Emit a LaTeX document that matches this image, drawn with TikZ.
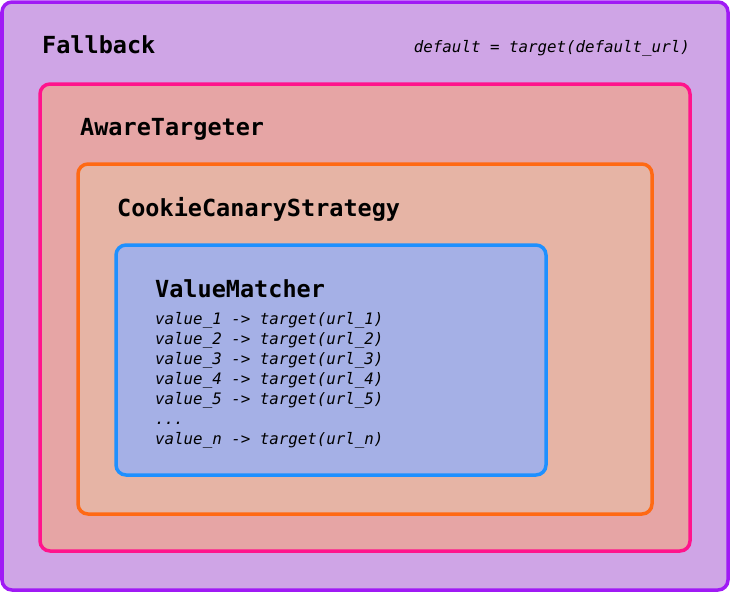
\documentclass[tikz,border=0pt]{standalone}
\usepackage{fontspec}
\setmonofont{DejaVu Sans Mono}
\definecolor{outerfill}{RGB}{207,165,230}
\definecolor{outerdraw}{RGB}{160,26,245}
\definecolor{pinkfill}{RGB}{230,165,165}
\definecolor{pinkdraw}{RGB}{255,20,140}
\definecolor{orangefill}{RGB}{230,180,165}
\definecolor{orangedraw}{RGB}{255,105,20}
\definecolor{bluefill}{RGB}{165,176,230}
\definecolor{bluedraw}{RGB}{30,144,255}
\tikzset{
  box/.style={line width=3.5pt, rounded corners=10pt},
  heading/.style={anchor=base west, inner sep=0pt, font=\fontsize{23.5}{26}\selectfont\ttfamily\bfseries},
  code/.style={anchor=base west, inner sep=0pt, font=\fontsize{15.8}{20}\selectfont\ttfamily\itshape},
}
\begin{document}
\begin{tikzpicture}[x=1pt,y=-1pt]
\useasboundingbox (0,0) rectangle (730,592);
\draw[box, draw=outerdraw, fill=outerfill] (2,2) rectangle (728,590);
\node[heading] (fallback) at (42,53) {Fallback};
\node[code, anchor=base east] (default) at (690,52) {default = target(default\_url)};
\draw[box, draw=pinkdraw, fill=pinkfill] (40,84) rectangle (690,551);
\node[heading] (aware) at (80,135) {AwareTargeter};
\draw[box, draw=orangedraw, fill=orangefill] (78,164) rectangle (652,514);
\node[heading] (cookie) at (117,216) {CookieCanaryStrategy};
\draw[box, draw=bluedraw, fill=bluefill] (116,245) rectangle (546,475);
\node[heading] (vm) at (155,297) {ValueMatcher};
\node[code] (v1) at (155,324) {value\_1 -> target(url\_1)};
\node[code] (v2) at (155,344) {value\_2 -> target(url\_2)};
\node[code] (v3) at (155,364) {value\_3 -> target(url\_3)};
\node[code] (v4) at (155,384) {value\_4 -> target(url\_4)};
\node[code] (v5) at (155,404) {value\_5 -> target(url\_5)};
\node[code] (vdots) at (155,424) {...};
\node[code] (vn) at (155,444) {value\_n -> target(url\_n)};
\end{tikzpicture}
\end{document}
